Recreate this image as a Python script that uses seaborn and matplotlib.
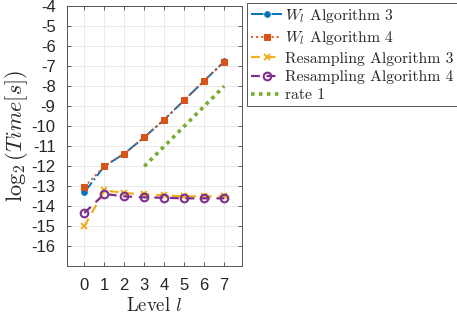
import pandas as pd
import seaborn as sns
import matplotlib.pyplot as plt

levels = [0, 1, 2, 3, 4, 5, 6, 7]
wl_alg3 = [-13.3, -12.0, -11.37, -10.55, -9.67, -8.7, -7.73, -6.77]
wl_alg4 = [-13.03, -12.0, -11.37, -10.55, -9.67, -8.7, -7.73, -6.78]
res_alg3 = [-15.0, -13.2, -13.33, -13.4, -13.45, -13.5, -13.5, -13.5]
res_alg4 = [-14.33, -13.38, -13.5, -13.55, -13.57, -13.6, -13.6, -13.6]
rate_x = [3, 7]
rate_y = [-12, -8]
yticks = list(range(-16, -3))

sns.set_theme(style="white")
plt.rcParams['font.family'] = ['cmr10', 'DejaVu Serif']
plt.rcParams['mathtext.fontset'] = 'cm'
plt.rcParams['axes.formatter.use_mathtext'] = True

fig = plt.figure(figsize=(4.57, 3.15), dpi=100)
ax = fig.add_axes([0.146, 0.154, 0.384, 0.827])

blue, orange, yellow, purple, green = '#0072BD', '#D95319', '#EDB120', '#7E2F8E', '#77AC30'

df = pd.DataFrame({'level': levels, 'a3': wl_alg3, 'a4': wl_alg4,
                   'r3': res_alg3, 'r4': res_alg4})
rate = pd.DataFrame({'level': rate_x, 't': rate_y})

sns.lineplot(data=df, x='level', y='a3', ax=ax, color=blue, linestyle='-.',
             linewidth=1.4, marker='o', markersize=4, markeredgecolor=blue,
             label=r'$W_l$ Algorithm 3')
sns.lineplot(data=df, x='level', y='a4', ax=ax, color=orange, linestyle=':',
             linewidth=1.4, marker='s', markersize=5, markeredgecolor=orange,
             label=r'$W_l$ Algorithm 4')
sns.lineplot(data=df, x='level', y='r3', ax=ax, color=yellow, linestyle=(0, (4, 3)),
             linewidth=1.6, marker='x', markersize=4.5, markeredgewidth=1.4,
             markeredgecolor=yellow, label='Resampling Algorithm 3')
sns.lineplot(data=df, x='level', y='r4', ax=ax, color=purple, linestyle=(0, (4, 3)),
             linewidth=1.6, marker='o', markersize=5.5, markeredgewidth=1.5,
             markerfacecolor='none', markeredgecolor=purple,
             label='Resampling Algorithm 4')
sns.lineplot(data=rate, x='level', y='t', ax=ax, color=green, linestyle=(0, (1, 1.2)),
             linewidth=2.6, label='rate 1')

ax.set_xlim(-0.88, 7.9)
ax.set_ylim(-17, -4)
ax.set_xticks(levels)
ax.set_xticklabels([str(v) for v in levels], family='Liberation Sans', fontsize=12)
ax.set_yticks(yticks)
ax.set_yticklabels([str(v) for v in yticks], family='Liberation Sans', fontsize=12)
ax.tick_params(direction='in', length=3, width=0.6, color='#444444', pad=8,
               top=True, right=True, bottom=True, left=True)
ax.grid(True, color='#e6e6e6', linewidth=0.6)
for s in ax.spines.values():
    s.set_color('#555555')
    s.set_linewidth(0.7)

ax.set_xlabel(r'Level $l$', fontsize=13.5, labelpad=3)
ax.set_ylabel(r'$\log_2\left(Time[s]\right)$', fontsize=16, labelpad=1)

leg = ax.legend(loc='upper left', bbox_to_anchor=(247 / 457, 1 - 3 / 315),
                bbox_transform=fig.transFigure, borderaxespad=0, fontsize=11.3,
                handlelength=2.0, handletextpad=0.2, labelspacing=0.28,
                borderpad=0.25, fancybox=False, framealpha=1)
leg.get_frame().set_edgecolor('#555555')
leg.get_frame().set_linewidth(0.7)

fig.savefig('out.png', dpi=100)
